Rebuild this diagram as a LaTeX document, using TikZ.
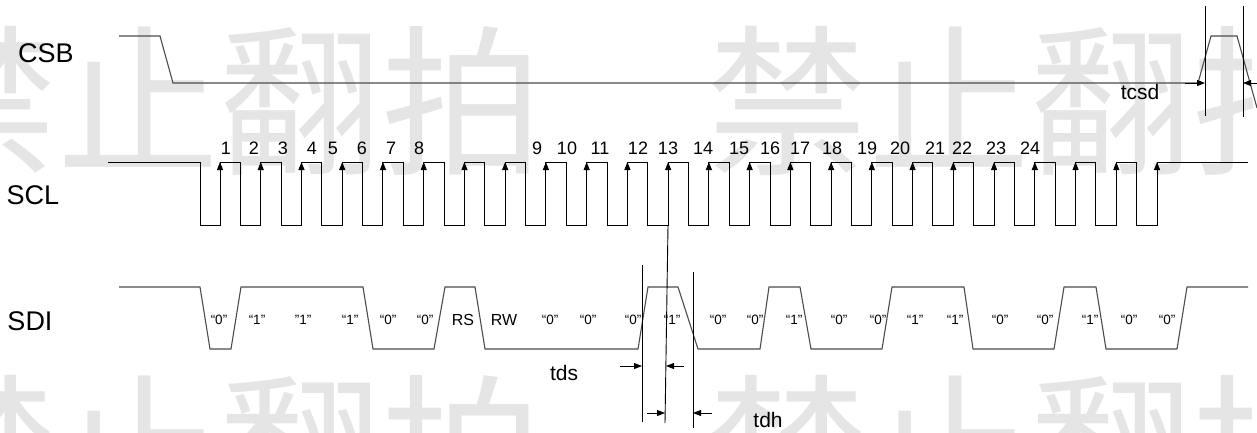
\documentclass[tikz,border=0pt]{standalone}
\usepackage{fontspec}
\setmainfont{Liberation Sans}
\newfontfamily\wmfont{Noto Sans CJK SC}
\usetikzlibrary{arrows.meta}

\tikzset{
  wave/.style={line width=1.1pt, black!70, line join=miter},
  clk/.style={line width=1pt, black, line join=miter},
  guide/.style={line width=0.9pt, black},
  tip/.style={-{Triangle[length=8pt,width=6pt]}},
  signame/.style={inner sep=0pt, font=\fontsize{27}{27}\selectfont},
  num/.style={inner sep=0pt, font=\fontsize{18}{18}\selectfont},
  bit/.style={inner sep=0pt, font=\fontsize{13.5}{13.5}\selectfont},
  reg/.style={inner sep=0pt, font=\fontsize{16}{16}\selectfont},
  tname/.style={inner sep=0pt, font=\fontsize{21}{21}\selectfont},
  watermark/.style={inner sep=0pt, text=black!10, font=\wmfont\fontsize{162}{162}\selectfont}
}

\begin{document}
\begin{tikzpicture}[x=1pt, y=-1pt]
\useasboundingbox (0,0) rectangle (1257,432);
\clip (0,0) rectangle (1257,432);

% watermark
\node[watermark] (wm1) at (220,101) {禁止翻拍};
\node[watermark] (wm2) at (1030,101) {禁止翻拍};
\node[watermark] (wm3) at (220,450) {禁止翻拍};
\node[watermark] (wm4) at (1030,450) {禁止翻拍};

% signal names
\node[signame] (CSB) at (46,53) {CSB};
\node[signame] (SCL) at (33,195) {SCL};
\node[signame] (SDI) at (30,321) {SDI};

% CSB
\draw[wave] (119,36) -- (160,36) -- (173,83) -- (1198,83) -- (1211,36) -- (1237,36) -- (1257,108);
\coordinate (csbA) at (1205,83);
\coordinate (csbB) at (1243,83);
\draw[guide] (1205,6) -- (1205,116);
\draw[guide] (1243,6) -- (1243,117);
\draw[guide, tip] (1185,83) -- (csbA);
\draw[guide, tip] (1257,83) -- (csbB);
\node[tname] (tcsd) at (1140,92) {tcsd};

% SCL
\draw[clk] (108,162) -- (200,162) -- (200,225) -- (220,225)
  \foreach \i in {1,...,23} { -- ++(0,-63) -- ++(20.4,0) -- ++(0,63) -- ++(20.34,0) }
  -- ++(0,-63) -- (1248,162);
\foreach \i in {0,...,23}
  \draw[clk, tip] ({220+40.74*\i},180) -- ++(0,-18);
\foreach \n/\x in {1/226, 2/254, 3/283, 4/312, 5/333, 6/362, 7/391, 8/419,
                   9/537, 10/567, 11/600, 12/638, 13/668, 14/703, 15/739, 16/770,
                   17/800, 18/832, 19/867, 20/900, 21/935, 22/962, 23/996, 24/1030}
  \node[num] (n\n) at (\x,148) {\n};

% SDI
\draw[wave] (119,287) -- (200,287) -- (210,349) -- (231,349) -- (241,287) -- (363,287)
  -- (373,349) -- (434,349) -- (445,287) -- (475,287) -- (485,349) -- (638,349)
  -- (648,287) -- (678,287) -- (698,349) -- (760,349) -- (769,287) -- (800,287)
  -- (811,349) -- (882,349) -- (892,287) -- (964,287) -- (973,349) -- (1054,349)
  -- (1064,287) -- (1096,287) -- (1106,349) -- (1177,349) -- (1187,287) -- (1248,287);
\foreach \x/\t [count=\k] in {219/“0”, 257/“1”, 303/”1”, 350/“1”, 388/“0”, 425/“0”,
                   550/“0”, 588/“0”, 633/“0”, 672/“1”, 718/“0”, 755/“0”,
                   794/“1”, 839/“0”, 878/“0”, 915/“1”, 955/“1”, 1000/“0”,
                   1045/“0”, 1090/“1”, 1129/“0”, 1167/“0”}
  \node[bit] (b\k) at (\x,320) {\t};
\node[reg] (RS) at (463,320) {RS};
\node[reg] (RW) at (504,320) {RW};

% tds / tdh
\coordinate (dsL) at (642,366);
\coordinate (dsR) at (666,366);
\coordinate (dhL) at (665,413);
\coordinate (dhR) at (693,413);
\draw[guide] (668,225) -- (665,423);
\draw[guide] (642,265) -- (642,422);
\draw[guide] (693,272) -- (693,428);
\draw[guide, tip] (620,366) -- (dsL);
\draw[guide, tip] (684,366) -- (dsR);
\draw[guide, tip] (647,413) -- (dhL);
\draw[guide, tip] (712,413) -- (dhR);
\node[tname] (tds) at (564,373) {tds};
\node[tname] (tdh) at (768,420) {tdh};

\end{tikzpicture}
\end{document}
